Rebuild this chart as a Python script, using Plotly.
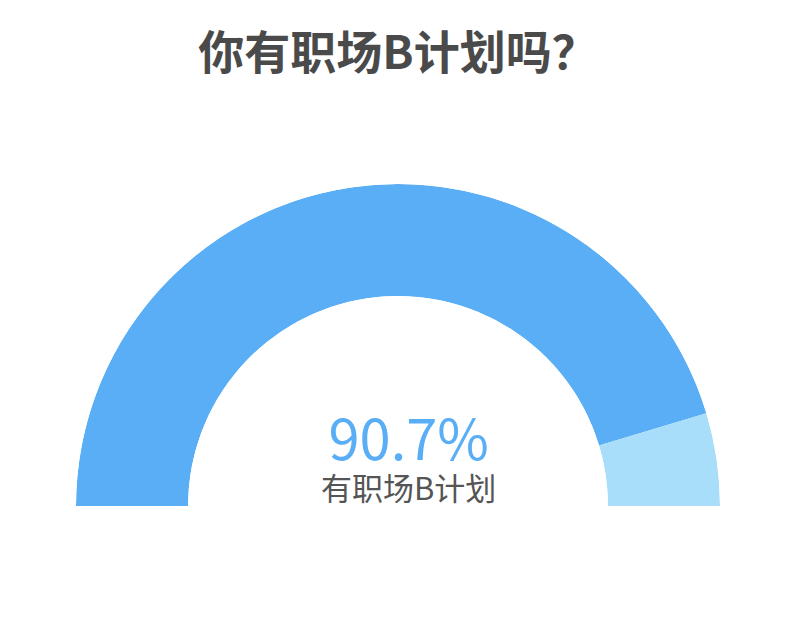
import plotly.graph_objects as go

# survey answers
answers = ['有职场B计划', '没有职场B计划']
shares = [90.7, 9.3]
colors = ['#5AAEF5', '#A8DEFA']

# turn shares into angle spans on a half circle
spans = [s / sum(shares) * 180 for s in shares]
starts = [sum(spans[:i]) for i in range(len(spans))]
centers = [st + sp / 2 for st, sp in zip(starts, spans)]

fig = go.Figure()
fig.add_trace(go.Barpolar(
    r=[1] * len(answers),
    theta=centers,
    width=spans,
    marker=dict(color=colors, line=dict(width=0)),
    text=answers,
    hoverinfo='text',
    showlegend=False,
))

# big percentage on top, answer label below, as one text block
center_text = (
    f'<span style="font-size:56px;color:{colors[0]}">{shares[0]}%</span>'
    f'<br>{answers[0]}'
)

fig.update_layout(
    width=800,
    height=627,
    margin=dict(l=0, r=0, t=0, b=0),
    paper_bgcolor='white',
    plot_bgcolor='white',
    font=dict(family='Noto Sans CJK SC'),
    title={
        'text': '<b>你有职场B计划吗？</b>',
        'font': dict(size=46, color='#4A4A4A'),
        'x': 390 / 800,
        'xanchor': 'center',
        'y': 1 - 45 / 627,
        'yanchor': 'middle',
    },
    polar=dict(
        domain=dict(x=[68 / 800, 712 / 800], y=[129 / 627, 451 / 627]),
        sector=[0, 180],
        hole=0.652,
        bgcolor='white',
        radialaxis=dict(range=[0, 1], visible=False, showgrid=False),
        angularaxis=dict(
            direction='clockwise',
            rotation=180,
            visible=False,
            showgrid=False,
        ),
    ),
    annotations=[
        dict(
            text=center_text,
            x=0.5, y=1 - 444 / 627,
            xref='paper', yref='paper',
            yanchor='middle',
            showarrow=False,
            font=dict(size=31, color='#555555'),
        ),
    ],
)

fig.write_html('out.html')
